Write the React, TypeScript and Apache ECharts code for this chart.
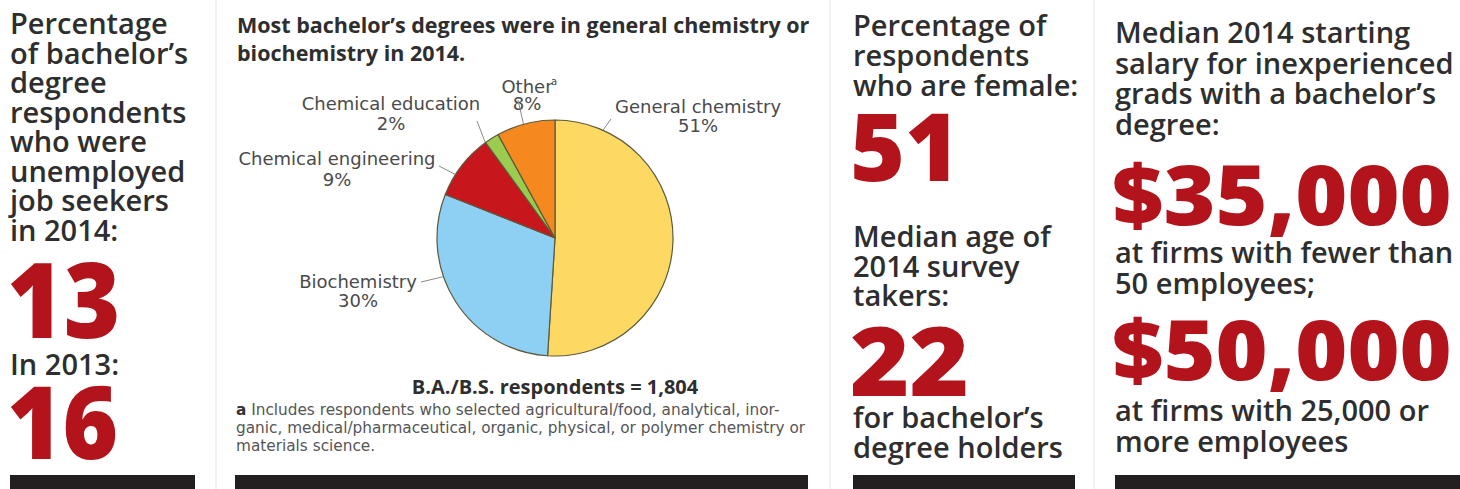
import React, { useEffect, useRef } from "react";
import * as echarts from "echarts";

// ---- data ----
const degreeFields = ["General chemistry", "Biochemistry", "Chemical engineering", "Chemical education", "Other"];
const degreeShares = [51, 30, 9, 2, 8];
const respondentsCount = [1804];
const unemployedYears = ["2014", "2013"];
const unemployedPct = [13, 16];
const femalePct = [51];
const medianAge = [22];
const salaryValues = [35000, 50000];

// ---- styles ----
const FONT = '"Open Sans", "Noto Sans", sans-serif';
const LABEL_FONT = '"DejaVu Sans", "Open Sans", sans-serif';
const RED = "#b3141c";
const INK = "#2e2e2e";
const sliceColors = ["#fdd964", "#8dd0f3", "#c8161d", "#9bcb4f", "#f5891f"];
const C = 0.36;

type Opt = { color?: string; weight?: any; align?: string; family?: string; scaleX?: number; rich?: any; lh?: number };

function t(text: string, x: number, base: number, fs: number, o: Opt = {}) {
  return {
    type: "text",
    x,
    y: base - C * fs,
    silent: true,
    scaleX: o.scaleX ?? 1,
    style: {
      text,
      fill: o.color ?? INK,
      fontFamily: o.family ?? FONT,
      fontSize: fs,
      fontWeight: o.weight ?? 600,
      lineHeight: (o.lh ?? 0.85) * fs,
      textAlign: o.align ?? "left",
      align: o.align ?? "left",
      textVerticalAlign: "middle",
      verticalAlign: "middle",
      rich: o.rich,
    },
  };
}

function block(lines: string[], x: number, base0: number, step: number, fs: number, o: Opt = {}) {
  return lines.map((s, i) => t(s, x, base0 + i * step, fs, o));
}

function seg(x1: number, y1: number, x2: number, y2: number, color = "#8a8a8a", w = 1) {
  return { type: "line", silent: true, shape: { x1, y1, x2, y2 }, style: { stroke: color, lineWidth: w } };
}

function rect(x: number, y: number, w: number, h: number, fill: string) {
  return { type: "rect", silent: true, shape: { x, y, width: w, height: h }, style: { fill } };
}

const money = (v: number) => "$" + v.toLocaleString("en-US");

// label placement (layout only)
const labelPlace = [
  { x: 698, l1: 108, l2: 127 },
  { x: 358, l1: 283, l2: 302 },
  { x: 337, l1: 160, l2: 181 },
  { x: 391, l1: 105, l2: 125 },
  { x: 527, l1: 88, l2: 105 },
];
const leaderLines = [
  [596, 140, 611, 119],
  [463, 272, 421, 282],
  [468, 181, 439, 166],
  [487, 147, 477, 121],
  [526, 135, 518, 100],
];

export default function App() {
  const ref = useRef<HTMLDivElement>(null);
  useEffect(() => {
    if (!ref.current) return;
    const chart = echarts.init(ref.current, undefined, { renderer: "svg" });

    const graphics: any[] = [];
    // separators
    [215, 829, 1093].forEach((x) => graphics.push(rect(x, 0, 2, 489, "#f1f1f1")));
    // bottom bars
    [[10, 185], [235, 573], [853, 222], [1115, 345]].forEach(([x, w]) => graphics.push(rect(x, 475, w, 14, "#231f20")));

    const big = { color: RED, weight: 800, lh: 0.72 };

    // column 1
    graphics.push(
      ...block(
        ["Percentage", "of bachelor\u2019s", "degree", "respondents", "who were", "unemployed", "job seekers", `in ${unemployedYears[0]}:`],
        10, 33, 29.5, 29
      )
    );
    graphics.push(t(String(unemployedPct[0]), 7, 335, 104, { ...big, scaleX: 0.93 }));
    graphics.push(t(`In ${unemployedYears[1]}:`, 10, 374, 29));
    graphics.push(t(String(unemployedPct[1]), 7, 456, 101, { ...big, scaleX: 0.94 }));

    // pie column
    graphics.push(
      ...block(["Most bachelor\u2019s degrees were in general chemistry or", "biochemistry in 2014."], 237, 32, 28, 21.5, { weight: 700 })
    );
    const lab = { align: "center", family: LABEL_FONT, color: "#4a4a4a", weight: 400 };
    degreeFields.forEach((name, i) => {
      const p = labelPlace[i];
      graphics.push(t(name, p.x, p.l1 + 5, 18, lab));
      graphics.push(t(degreeShares[i] + "%", p.x, p.l2 + 5, 18, lab));
    });
    graphics.push(t("a", 551, 85, 10, { family: LABEL_FONT, color: "#4a4a4a", weight: 400 }));
    leaderLines.forEach(([a, b, c, d]) => graphics.push(seg(a, b, c, d)));

    graphics.push(
      t(`B.A./B.S. respondents = ${respondentsCount[0].toLocaleString("en-US")}`, 555, 394, 20, { align: "center", weight: 700 })
    );
    const note = { color: "#555", weight: 400, family: LABEL_FONT };
    const noteRich = { b: { fontWeight: 700, fontSize: 15.3, fontFamily: LABEL_FONT, fill: "#333" } };
    graphics.push(
      t("{b|a} Includes respondents who selected agricultural/food, analytical, inor-", 236, 416, 15.3, { ...note, rich: noteRich })
    );
    graphics.push(t("ganic, medical/pharmaceutical, organic, physical, or polymer chemistry or", 236, 434, 15.3, note));
    graphics.push(t("materials science.", 236, 452, 15.3, note));

    // column 3
    graphics.push(...block(["Percentage of", "respondents", "who are female:"], 853, 35, 30, 29));
    graphics.push(t(String(femalePct[0]), 850, 179, 94, big));
    graphics.push(...block(["Median age of", "2014 survey", "takers:"], 853, 246, 29.5, 29));
    graphics.push(t(String(medianAge[0]), 850, 393, 96, { ...big, scaleX: 1.06 }));
    graphics.push(...block(["for bachelor\u2019s", "degree holders"], 853, 427, 30, 29));

    // column 4
    graphics.push(
      ...block(["Median 2014 starting", "salary for inexperienced", "grads with a bachelor\u2019s", "degree:"], 1115, 42, 30.5, 29)
    );
    graphics.push(t(money(salaryValues[0]), 1112, 222, 84, { ...big, scaleX: 1.06 }));
    graphics.push(...block(["at firms with fewer than", "50 employees;"], 1115, 262, 30.5, 29));
    graphics.push(t(money(salaryValues[1]), 1112, 377, 84, { ...big, scaleX: 1.06 }));
    graphics.push(...block(["at firms with 25,000 or", "more employees"], 1115, 420, 31, 29));

    chart.setOption({
      animation: false,
      backgroundColor: "#ffffff",
      series: [
        {
          type: "pie",
          center: [555, 238],
          radius: 118,
          startAngle: 90,
          clockwise: true,
          silent: true,
          label: { show: false },
          labelLine: { show: false },
          itemStyle: { borderColor: "#5c5a3c", borderWidth: 1.2 },
          data: degreeFields.map((name, i) => ({ name, value: degreeShares[i], itemStyle: { color: sliceColors[i] } })),
        },
      ],
      graphic: { elements: graphics },
    });
    return () => chart.dispose();
  }, []);
  return (
    <div
      ref={ref}
      style={{ position: "fixed", left: 0, top: 0, width: 1460, height: 489, background: "#fff" }}
    />
  );
}
